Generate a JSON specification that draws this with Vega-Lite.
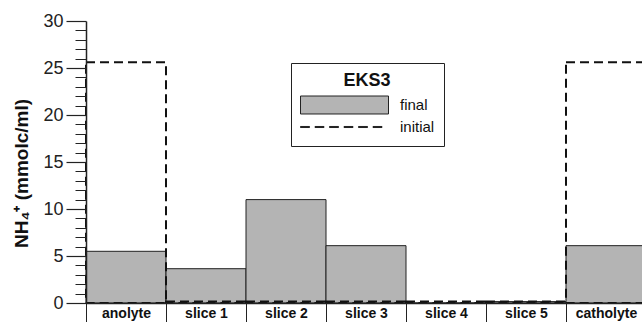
{
  "$schema": "https://vega.github.io/schema/vega-lite/v6.json",
  "autosize": "none",
  "width": 560,
  "height": 282,
  "padding": {"left": 86, "top": 21, "right": 0, "bottom": 19},
  "background": "white",
  "config": {
    "font": "Liberation Sans",
    "view": {"stroke": null}
  },
  "data": {
    "values": [
      {"sample": "anolyte", "series": "final", "value": 5.5},
      {"sample": "anolyte", "series": "initial", "value": 25.6},
      {"sample": "slice 1", "series": "final", "value": 3.65},
      {"sample": "slice 1", "series": "initial", "value": 0.15},
      {"sample": "slice 2", "series": "final", "value": 11.0},
      {"sample": "slice 2", "series": "initial", "value": 0.15},
      {"sample": "slice 3", "series": "final", "value": 6.1},
      {"sample": "slice 3", "series": "initial", "value": 0.15},
      {"sample": "slice 4", "series": "final", "value": 0},
      {"sample": "slice 4", "series": "initial", "value": 0.15},
      {"sample": "slice 5", "series": "final", "value": 0.15},
      {"sample": "slice 5", "series": "initial", "value": 0.15},
      {"sample": "catholyte", "series": "final", "value": 6.1},
      {"sample": "catholyte", "series": "initial", "value": 25.6}
    ]
  },
  "encoding": {
    "x": {
      "field": "sample",
      "type": "nominal",
      "sort": null,
      "scale": {"paddingInner": 0, "paddingOuter": 0},
      "axis": {
        "title": null,
        "labelAngle": 0,
        "tickBand": "extent",
        "tickSize": 20,
        "tickColor": "#222",
        "tickWidth": 1,
        "domainColor": "#222",
        "domainWidth": 1.5,
        "labelFontSize": 14,
        "labelFontWeight": "bold",
        "labelColor": "#111",
        "labelPadding": -17,
        "zindex": 1
      }
    }
  },
  "layer": [
    {
      "transform": [{"filter": "datum.series === 'final'"}],
      "mark": {"type": "bar", "fill": "#b4b4b4", "stroke": "#222", "strokeWidth": 1},
      "encoding": {
        "y": {
          "field": "value",
          "type": "quantitative",
          "scale": {"domain": [0, 30], "nice": false},
          "axis": {
            "orient": "left",
            "values": [0, 5, 10, 15, 20, 25, 30],
            "tickSize": 20,
            "tickColor": "#222",
            "tickWidth": 1.2,
            "domainColor": "#222",
            "domainWidth": 1.5,
            "grid": false,
            "labelFontSize": 18,
            "labelColor": "#222",
            "labelPadding": 3,
            "title": "NH₄⁺ (mmolc/ml)",
            "titleFontSize": 19,
            "titleFontWeight": "bold",
            "titleColor": "#111",
            "titlePadding": 11,
            "titleY": 152,
            "zindex": 1
          }
        }
      }
    },
    {
      "transform": [{"filter": "datum.series === 'initial'"}],
      "mark": {"type": "bar", "filled": false, "stroke": "#111", "strokeWidth": 2, "strokeDash": [9, 5]},
      "encoding": {
        "y": {
          "field": "value",
          "type": "quantitative",
          "scale": {"domain": [0, 30], "nice": false},
          "axis": {
            "orient": "left",
            "values": [1,2,3,4,6,7,8,9,11,12,13,14,16,17,18,19,21,22,23,24,26,27,28,29],
            "tickSize": 11,
            "tickColor": "#222",
            "tickWidth": 1,
            "labels": false,
            "domain": false,
            "grid": false,
            "title": null,
            "zindex": 1
          }
        }
      }
    },
    {
      "mark": {"type": "point", "filled": true, "opacity": 0, "stroke": "#222", "strokeWidth": 1},
      "encoding": {
        "y": {"field": "value", "type": "quantitative", "axis": null},
        "shape": {
          "field": "series",
          "type": "nominal",
          "scale": {
            "domain": ["final", "initial"],
            "range": [
              "M-1,-0.2045H1V0.2045H-1Z",
              "M-1,-0.012H-0.795V0.012H-1ZM-0.67,-0.012H-0.466V0.012H-0.67ZM-0.341,-0.012H-0.136V0.012H-0.341ZM-0.011,-0.012H0.193V0.012H-0.011ZM0.318,-0.012H0.523V0.012H0.318ZM0.648,-0.012H0.852V0.012H0.648Z"
            ]
          },
          "legend": {
            "title": "EKS3",
            "orient": "none",
            "legendX": 205,
            "legendY": 42,
            "strokeColor": "#222",
            "fillColor": "white",
            "padding": 9,
            "titleFontSize": 18,
            "titleFontWeight": "bold",
            "titleColor": "#111",
            "titleAnchor": "middle",
            "titlePadding": 5,
            "symbolSize": 7744,
            "symbolOpacity": 1,
            "symbolStrokeColor": "#222",
            "symbolStrokeWidth": 1,
            "clipHeight": 20,
            "rowPadding": 2,
            "labelFontSize": 15,
            "labelColor": "#111",
            "labelOffset": 11,
            "encode": {
              "symbols": {
                "enter": {
                  "stroke": {"value": "#222"},
                  "strokeWidth": {"value": 1}
                },
                "update": {
                  "stroke": {"value": "#222"},
                  "strokeWidth": {"value": 1},
                  "opacity": {"value": 1}
                }
              }
            }
          }
        },
        "fill": {
          "field": "series",
          "type": "nominal",
          "scale": {"domain": ["final", "initial"], "range": ["#b4b4b4", "#111"]},
          "legend": {
            "title": "EKS3",
            "orient": "none",
            "legendX": 205,
            "legendY": 42,
            "symbolStrokeColor": "#222",
            "symbolStrokeWidth": 1,
            "encode": {
              "symbols": {
                "enter": {
                  "stroke": {"value": "#222"},
                  "strokeWidth": {"value": 1}
                },
                "update": {
                  "stroke": {"value": "#222"},
                  "strokeWidth": {"value": 1},
                  "opacity": {"value": 1}
                }
              }
            }
          }
        }
      }
    }
  ],
  "resolve": {"axis": {"y": "independent"}}
}
